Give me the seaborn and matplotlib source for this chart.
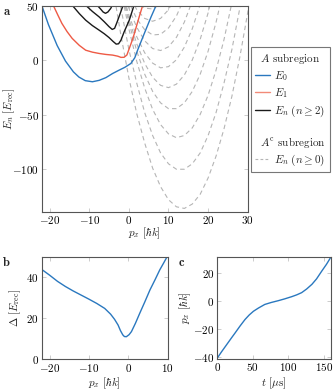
import numpy as np
import pandas as pd
import matplotlib
matplotlib.use("Agg")
import matplotlib.pyplot as plt
import seaborn as sns
from matplotlib.lines import Line2D

# ---------------- data ----------------
# Panel a: A subregion levels
e0_px = [-23, -22, -20.3, -18.1, -16, -14, -12.6, -11, -9.2, -7.5, -5.8, -4.1, -2.5, -1.0, 0.5, 1.5, 2.2, 3.9, 5.6, 6.9, 7.5]
e0_E = [60.5, 50.7, 32.9, 13.7, -0.6, -10.5, -15.3, -18.6, -19.6, -18.3, -15.8, -12.0, -9.0, -6.3, -2.8, 2.5, 9.4, 24.8, 40, 50.7, 56]

e1_px = [-20, -19, -17.9, -16.9, -15.6, -14.3, -12.5, -10.9, -9.2, -7.5, -5.8, -4.1, -2.8, -2.0, -1.2, -0.5, 0.1, 0.8, 1.4, 2.0, 2.6, 3.5, 4.0]
e1_E = [58, 50, 41.5, 34, 26.5, 20.2, 13.8, 9.4, 7.6, 6.4, 5.5, 4.9, 3.9, 2.8, 2.9, 5.0, 11, 18, 24.8, 32.5, 40, 50.7, 57]

e2_px = [-15.2, -14.3, -12.5, -10.9, -9.2, -7.5, -6.2, -5.0, -4.0, -3.2, -2.6, -2.0, -1.2, -0.5, 0.1, 0.9, 1.5]
e2_E = [58, 50.7, 43, 37, 32, 27.8, 24.5, 21, 17.5, 15, 15.3, 18.6, 26.2, 32, 37, 46, 53]

e3_px = [-12, -10.9, -9.2, -7.5, -6.2, -5.0, -4.2, -3.6, -3.0, -2.3, -1.6, -1.0]
e3_E = [58, 50.7, 45, 40, 35.5, 31, 28.5, 29.5, 35, 42, 49.2, 56]

e4_px = [-8.8, -8, -7.2, -6.5, -5.9, -5.3, -4.6, -4.0]
e4_E = [56, 50.7, 47.5, 44.5, 43.3, 44.5, 47.7, 52]

# Panel a: A^c subregion levels, sampled on a common momentum grid
gray_px = [-6, -4, -2, 0, 2, 4, 6, 8, 10, 12, 14, 16, 18, 20, 22, 24, 26, 28, 30, 32]
N = None
gray_E0 = [115, 66, 23, -16, -49, -76, -99, -116, -128, -134.5, -136, -132, -123, -108, -88, -63, -33, 3, 44, 90]
gray_E1 = [137, 90, 48, 10, -21, -48, -69, -85, -95, -100, -100, -95, -85, -69, -48, -21, 10, 48, 90, 137]
gray_E2 = [150, 104, 64, 29, -1, -25.5, -45, -59, -67.5, -71, -69, -62, -49.6, -32, -9, 19, 53, 92, N, N]
gray_E3 = [146, 103.5, 66.5, 35, 8.5, -12.7, -28.5, -39, -44.3, -44.3, -39, -28.5, -12.7, 8.5, 35, 66.5, 103.5, N, N, N]
gray_E4 = [140, 100.7, 67, 38.4, 15.2, -2.8, -15.5, -22.9, -25, -21.8, -13.4, 0.4, 19.4, 43.7, 73.2, 108, N, N, N, N]
gray_E5 = [134, 98, 67, 41.8, 21.7, 7, -2.5, -6.8, -5.7, 0.6, 12.2, 29.1, 51.3, 78.8, N, N, N, N, N, N]
gray_E6 = [N, 99, 71, 48, 30.4, 18, 10.9, 9.1, 12.5, 21.2, 35.2, 54.5, 79, N, N, N, N, N, N, N]
gray_E7 = [N, 100, 74, 53.5, 38.2, 28.2, 23.4, 24, 29.8, 40.8, 57.2, 79, N, N, N, N, N, N, N, N]
gray_E8 = [N, N, 78, 59.8, 46.6, 38.6, 36, 38.6, 46.6, 59.8, 78, N, N, N, N, N, N, N, N, N]
gray_E9 = [N, N, N, 65.5, 54.2, 48.1, 47.3, 51.8, 61.6, 76.6, N, N, N, N, N, N, N, N, N, N]

# Panel b: gap
gap_px = [-22, -20, -18, -16, -14, -12, -10, -8, -6, -4.5, -3.5, -2.6, -2.0, -1.4, -1.0, -0.5, 0.2, 0.8, 1.8, 2.9, 4.2, 5.5, 6.8, 8.0, 9.0, 10]
gap_D = [43.8, 41, 38, 35.5, 33.3, 31.3, 29.3, 27.2, 24.8, 22, 19.5, 16.7, 14, 11.9, 11.1, 11.0, 12, 13.5, 17.5, 22.4, 28, 33.8, 38.8, 43.6, 47, 50.5]

# Panel c: momentum vs time
t_us = [0, 6, 13, 20, 25, 32, 39, 45, 51, 58, 67, 76, 86, 95, 105, 112, 119, 126, 133.5, 140, 147.6, 154, 160]
p_t = [-41, -36.5, -31.5, -26.5, -23, -18, -13.3, -10, -7.3, -5, -2.4, -1.0, 0.3, 1.6, 3.2, 4.5, 6.1, 8.7, 12.1, 16, 21.8, 26.5, 31.5]

legend_labels = ["$A$ subregion", "$E_0$", "$E_1$", r"$E_n\ (n \geq 2)$", "",
                 r"$A^{\rm c}$ subregion", r"$E_n\ (n \geq 0)$"]

# ---------------- style ----------------
sns.set_style("white")
plt.rcParams.update({
    "font.family": "serif",
    "font.serif": ["cmr10", "DejaVu Serif"],
    "mathtext.fontset": "cm",
    "axes.formatter.use_mathtext": True,
    "axes.unicode_minus": True,
    "font.size": 8,
})

BLUE = "#2a78bf"
RED = "#ee5a45"
BLACK = "#1a1a1a"
GRAY = "#b5b5b5"
DASH = (0, (4, 3))

W, H = 335.0, 391.0
fig = plt.figure(figsize=(3.35, 3.91), dpi=100)
axA = fig.add_axes([0.1245, 0.4586, 0.615, 0.526])
axB = fig.add_axes([0.1245, 0.0811, 0.376, 0.2624])
axC = fig.add_axes([0.6487, 0.0826, 0.3385, 0.2609])

# gray dashed A^c levels
gray_lists = [gray_E0, gray_E1, gray_E2, gray_E3, gray_E4, gray_E5, gray_E6, gray_E7, gray_E8, gray_E9]
rows = []
for k, vals in enumerate(gray_lists):
    for p, e in zip(gray_px, vals):
        if e is not None:
            rows.append({"px": p, "E": e, "curve": k})
gray_df = pd.DataFrame(rows)
sns.lineplot(data=gray_df, x="px", y="E", units="curve", estimator=None,
             color=GRAY, lw=0.8, linestyle=DASH, ax=axA, legend=False)

for xs, ys in [(e4_px, e4_E), (e3_px, e3_E), (e2_px, e2_E)]:
    sns.lineplot(x=xs, y=ys, ax=axA, color=BLACK, lw=1.0, estimator=None, sort=False)
sns.lineplot(x=e1_px, y=e1_E, ax=axA, color=RED, lw=1.0, estimator=None, sort=False)
sns.lineplot(x=e0_px, y=e0_E, ax=axA, color=BLUE, lw=1.0, estimator=None, sort=False)

axA.set_xlim(-22, 30)
axA.set_ylim(-139, 50)
axA.set_xticks([-20, -10, 0, 10, 20, 30])
axA.set_yticks([-100, -50, 0, 50])
axA.set_xlabel(r"$p_x\ [\hbar k]$")
axA.set_ylabel(r"$E_n\ [E_{\rm rec}]$")

sns.lineplot(x=gap_px, y=gap_D, ax=axB, color=BLUE, lw=1.0, estimator=None, sort=False)
axB.set_xlim(-22, 10)
axB.set_ylim(0, 50)
axB.set_xticks([-20, -10, 0, 10])
axB.set_yticks([0, 20, 40])
axB.set_xlabel(r"$p_x\ [\hbar k]$")
axB.set_ylabel(r"$\Delta\ [E_{\rm rec}]$")

sns.lineplot(x=t_us, y=p_t, ax=axC, color=BLUE, lw=1.0, estimator=None, sort=False)
axC.set_xlim(0, 160)
axC.set_ylim(-41.5, 32)
axC.set_xticks([0, 50, 100, 150])
axC.set_yticks([-40, -20, 0, 20])
axC.set_xlabel(r"$t\ [\mu\mathrm{s}]$")
axC.set_ylabel(r"$p_x\ [\hbar k]$")

for ax in (axA, axB, axC):
    for s in ax.spines.values():
        s.set_color("#555555")
        s.set_linewidth(0.8)
    ax.tick_params(direction="in", length=3, width=0.6, color="#c4c4c4",
                   labelsize=8, labelcolor="black", top=True, right=True,
                   bottom=True, left=True, pad=2)
    ax.grid(False)

# label placement (figure pixels -> axes fractions)
def place_labels(ax, ylab_x_px, xlab_center_y_px):
    x0, y0, w, h = ax.get_position().bounds
    left_px = x0 * W
    bottom_px = (1 - y0) * H
    wpx, hpx = w * W, h * H
    ax.yaxis.set_label_coords((ylab_x_px - left_px) / wpx, 0.5)
    ax.yaxis.label.set_va("center")
    ax.xaxis.set_label_coords(0.5, (bottom_px - xlab_center_y_px) / hpx)
    ax.xaxis.label.set_va("center")

place_labels(axA, 9.0, 233.5)
place_labels(axB, 15.0, 383.0)
place_labels(axC, 185.0, 383.0)

# legend
handles = [Line2D([], [], color="none"),
           Line2D([], [], color=BLUE, lw=1.0),
           Line2D([], [], color="#f28a78", lw=1.0),
           Line2D([], [], color=BLACK, lw=1.0),
           Line2D([], [], color="none"),
           Line2D([], [], color="none"),
           Line2D([], [], color=GRAY, lw=0.8, linestyle=(0, (2.5, 2)))]
leg = fig.legend(handles, legend_labels, loc="upper left",
                 bbox_to_anchor=(251 / W, 1 - 46.7 / H),
                 frameon=True, fancybox=False, edgecolor="#555555",
                 handlelength=1.3, handletextpad=0.4, borderpad=0.4,
                 labelspacing=0.28, fontsize=8, borderaxespad=0)
leg.get_frame().set_linewidth(0.8)
try:
    col = leg._legend_handle_box.get_children()[0]
    entries = col.get_children()
    for i in (0, 5):
        entries[i].get_children()[0].set_width(0)
except Exception:
    pass

fig.text(6.7 / W, 1 - 11.7 / H, r"$\mathbf{a}$", ha="center", va="center", fontsize=9)
fig.text(6.7 / W, 1 - 263 / H, r"$\mathbf{b}$", ha="center", va="center", fontsize=9)
fig.text(181.7 / W, 1 - 263 / H, r"$\mathbf{c}$", ha="center", va="center", fontsize=9)

fig.savefig("out.png", dpi=100)
